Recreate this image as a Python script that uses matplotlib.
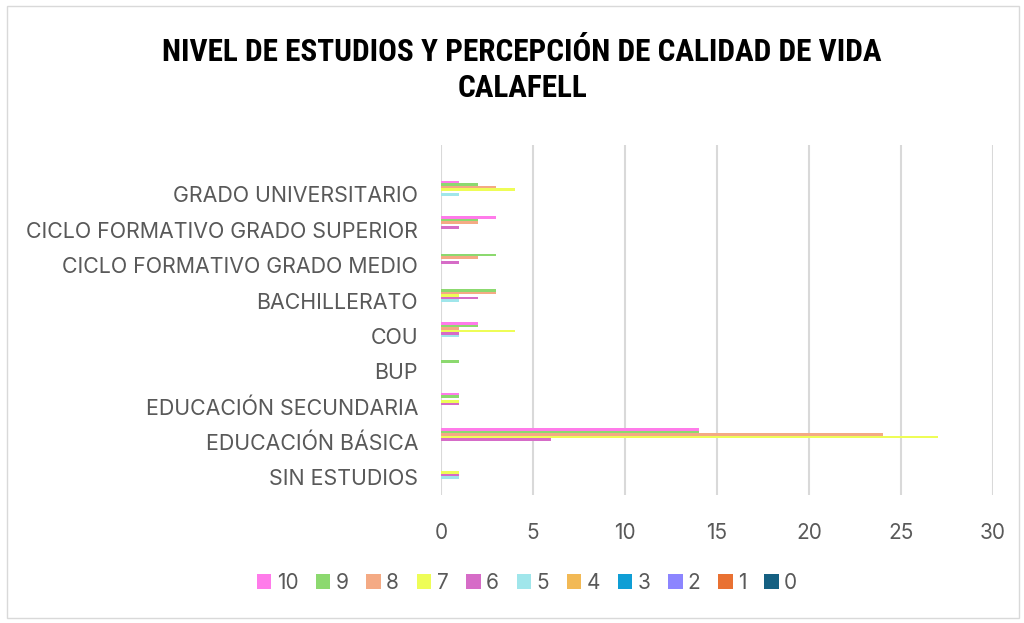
import matplotlib.pyplot as plt
import numpy as np
from matplotlib.patches import Rectangle

# niveles de estudios (de abajo hacia arriba, como en Excel)
categorias = ["SIN ESTUDIOS", "EDUCACIÓN BÁSICA", "EDUCACIÓN SECUNDARIA", "BUP", "COU",
              "BACHILLERATO", "CICLO FORMATIVO GRADO MEDIO",
              "CICLO FORMATIVO GRADO SUPERIOR", "GRADO UNIVERSITARIO"]

# puntuaciones de calidad de vida 0..10
s0 = [0, 0, 0, 0, 0, 0, 0, 0, 0]
s1 = [0, 0, 0, 0, 0, 0, 0, 0, 0]
s2 = [0, 0, 0, 0, 0, 0, 0, 0, 0]
s3 = [0, 0, 0, 0, 0, 0, 0, 0, 0]
s4 = [0, 0, 0, 0, 0, 0, 0, 0, 0]
s5 = [1, 0, 0, 0, 1, 1, 0, 0, 1]
s6 = [1, 6, 1, 0, 1, 2, 1, 1, 0]
s7 = [1, 27, 1, 0, 4, 1, 0, 0, 4]
s8 = [0, 24, 0, 0, 1, 3, 2, 2, 3]
s9 = [0, 14, 1, 1, 2, 3, 3, 2, 2]
s10 = [0, 14, 1, 0, 2, 0, 0, 3, 1]

series = [s0, s1, s2, s3, s4, s5, s6, s7, s8, s9, s10]
nombres = ["0", "1", "2", "3", "4", "5", "6", "7", "8", "9", "10"]
colores = ["#156082", "#E97132", "#8C85FF", "#0F9ED5", "#F2B955", "#A0E6EB",
           "#D66CC7", "#EEFD57", "#F4AA84", "#8CD96F", "#FF7BEA"]

fig = plt.figure(figsize=(10.24, 6.23), dpi=100)
ax = fig.add_axes([441/1024, 1-495/623, (993-441)/1024, (495-145)/623])

y = np.arange(len(categorias))
h = 0.0706
barras = []
for k in range(11):
    b = ax.barh(y + (k - 5) * h, series[k], height=h, color=colores[k], label=nombres[k])
    barras.append(b)

ax.set_xlim(0, 30)
ax.set_ylim(-0.5, 9.4)
ax.set_xticks(range(0, 31, 5))
ax.set_yticks(y)
ax.set_yticklabels(categorias)
ax.grid(axis="x", color="#D9D9D9", linewidth=1.5)
ax.set_axisbelow(True)
for s in ax.spines.values():
    s.set_visible(False)
ax.tick_params(length=0, labelsize=15, labelcolor="#595959")
ax.tick_params(axis="y", labelsize=15.4, pad=16.5)
ax.tick_params(axis="x", pad=20)
for t in ax.get_xticklabels() + ax.get_yticklabels():
    t.set_family(["Inter", "DejaVu Sans"])

titulo_font = ["Roboto Condensed", "Liberation Sans", "DejaVu Sans"]
fig.text(0.51, 1-52/623, "NIVEL DE ESTUDIOS Y PERCEPCIÓN DE CALIDAD DE VIDA",
         ha="center", va="center", fontsize=22.5, fontweight="bold", family=titulo_font)
fig.text(0.51, 1-88/623, "CALAFELL", ha="center", va="center", fontsize=22.5,
         fontweight="bold", family=titulo_font)

hs = barras[::-1]
ls = nombres[::-1]
leg = fig.legend(hs, ls, loc="center", bbox_to_anchor=(527/1024, 1-583/623), ncol=11,
                 frameon=False, handlelength=0.7, handleheight=0.7, handletextpad=0.25,
                 columnspacing=0.85, prop={"family": ["Inter", "DejaVu Sans"], "size": 15})
for t in leg.get_texts():
    t.set_color("#595959")

fig.patches.append(Rectangle((7/1024, 5/623), 1012/1024, 612/623, transform=fig.transFigure,
                             fill=False, edgecolor="#D9D9D9", linewidth=1))

fig.savefig("out.png", dpi=100)
